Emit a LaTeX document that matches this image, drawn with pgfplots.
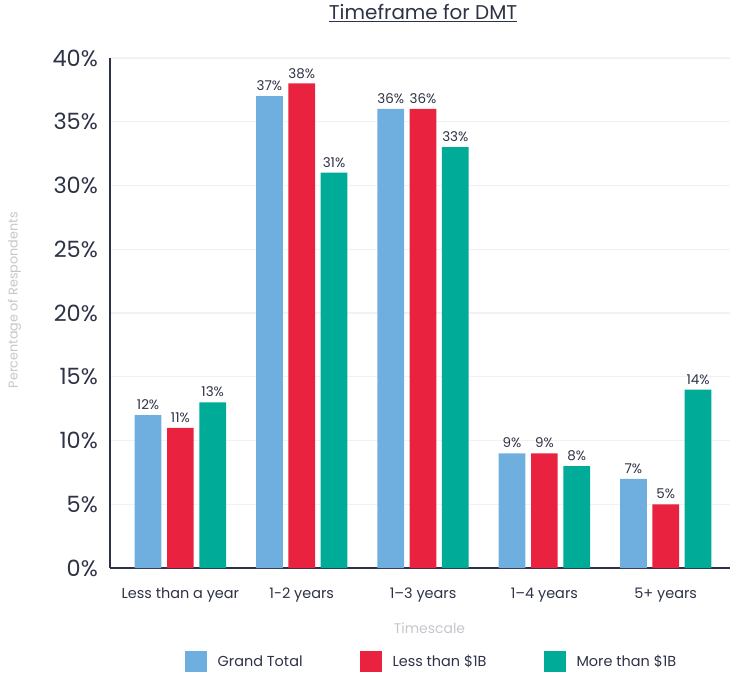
\documentclass[border=0pt]{standalone}
\usepackage{fontspec}
\setmainfont{Poppins}
\usepackage{pgfplots}
\pgfplotsset{compat=1.18}
\definecolor{cblue}{HTML}{6FAFE0}
\definecolor{cred}{HTML}{E8223F}
\definecolor{cgreen}{HTML}{00AB97}
\definecolor{ctext}{HTML}{2E3246}
\definecolor{clabel}{HTML}{C5C6CC}
\definecolor{cgrid}{HTML}{F2F2F4}
\begin{document}
\begin{tikzpicture}
\path[use as bounding box] (-110bp,-105bp) rectangle (620bp,568bp);
\begin{axis}[
  at={(0,0)}, anchor=south west,
  scale only axis, width=620bp, height=510bp,
  xmin=-0.58, xmax=4.53, ymin=0, ymax=40,
  axis x line*=bottom, axis y line*=left,
  axis line style={-, ctext, line width=2bp},
  ytick={0,5,...,40},
  yticklabels={0\%,5\%,10\%,15\%,20\%,25\%,30\%,35\%,40\%},
  xtick={0,1,2,3,4},
  xticklabels={Less than a year,1-2 years,1–3 years,1–4 years,5+ years},
  major tick length=0pt,
  ymajorgrids, grid style={cgrid, line width=1.2bp},
  yticklabel style={font=\fontsize{22.5}{24}\selectfont, text=ctext, anchor=east, inner sep=0pt, xshift=-12bp},
  xticklabel style={font=\fontsize{14.5}{16}\selectfont, text=ctext, anchor=base, inner sep=0pt, yshift=-30bp},
  ybar, bar width=26.7bp,
  nodes near coords={\pgfmathprintnumber[assume math mode=true]{\pgfplotspointmeta}\%},
  every node near coord/.append style={font=\fontsize{13.5}{15}\selectfont, text=ctext, anchor=south, inner sep=0pt, yshift=5bp},
  title={\underline{Timeframe for DMT}},
  title style={at={(0.505,1.076)}, anchor=center, font=\fontsize{20}{22}\selectfont, text=ctext},
  xlabel={Timescale},
  xlabel style={at={(0.5153,-0.1176)}, anchor=center, font=\fontsize{14}{16}\selectfont, text=clabel},
  ylabel={Percentage of Respondents},
  ylabel style={at={(-0.154,0.525)}, anchor=center, rotate=0, font=\fontsize{12.8}{14}\selectfont, text=clabel},
  legend columns=3,
  legend style={at={(0.5185,-0.184)}, anchor=center, draw=none, fill=none,
    font=\fontsize{14.5}{16}\selectfont, text=ctext,
    /tikz/every odd column/.append style={column sep=9bp},
    /tikz/every even column/.append style={column sep=55bp}},
  legend image code/.code={\path[#1, draw=none] (0bp,-10.5bp) rectangle (22bp,10.5bp);},
]
\addplot[fill=cblue, draw=none, bar shift=-32.3bp] coordinates {(0,12) (1,37) (2,36) (3,9) (4,7)};
\addplot[fill=cred, draw=none, bar shift=0bp] coordinates {(0,11) (1,38) (2,36) (3,9) (4,5)};
\addplot[fill=cgreen, draw=none, bar shift=32.3bp] coordinates {(0,13) (1,31) (2,33) (3,8) (4,14)};
\legend{Grand Total,Less than \$1B,More than \$1B}
\end{axis}
\end{tikzpicture}
\end{document}
